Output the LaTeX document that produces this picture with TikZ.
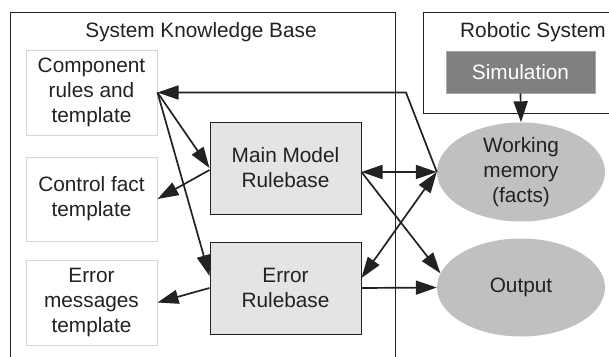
\documentclass[tikz,border=0pt]{standalone}
\usepackage{fontspec}
\setmainfont{Liberation Sans}
\usetikzlibrary{arrows.meta,shapes.geometric,calc}
\definecolor{txt}{HTML}{222222}
\definecolor{lightbd}{HTML}{D6D6D6}
\definecolor{rbfill}{HTML}{E4E4E4}
\definecolor{ellfill}{HTML}{C0C0C0}
\definecolor{simfill}{HTML}{808080}
\definecolor{simbd}{HTML}{A8A8A8}
\tikzset{
  every node/.style={font=\fontsize{20.8}{25}\selectfont, text=txt, align=center, inner sep=0pt},
  tbox/.style={draw=lightbd, line width=1pt, minimum width=131pt, minimum height=85pt},
  rbox/.style={draw=txt, fill=rbfill, line width=1pt, minimum width=151pt, minimum height=92pt},
  ell/.style={ellipse, fill=ellfill, minimum width=168pt, minimum height=99pt},
  frame/.style={draw=txt, line width=1pt},
  arr/.style={draw=txt, line width=1.7pt, -{Triangle[length=21pt,width=14pt]}},
  darr/.style={draw=txt, line width=1.7pt, {Triangle[length=21pt,width=14pt]}-{Triangle[length=21pt,width=14pt]}},
}
\begin{document}
\begin{tikzpicture}[x=1pt,y=-1pt]
\useasboundingbox (0,0) rectangle (609,356);
\clip (0,0) rectangle (609,356);
% containers
\node[frame, minimum width=385pt, minimum height=400pt, anchor=north west] (skb) at (10,12) {};
\node (skbt) at (201,32) {System Knowledge Base};
\node[frame, minimum width=240pt, minimum height=101pt, anchor=north west] (rob) at (423,12) {};
\node (robt) at (533,32) {Robotic System};
\node[draw=simbd, fill=simfill, line width=1pt, minimum width=149pt, minimum height=42pt, text=white] (sim) at (520.5,72) {Simulation};
% left text boxes
\node[tbox] (comp) at (91.5,92.5) {Component\\rules and\\template};
\node[tbox, minimum height=84pt] (ctrl) at (91.5,199) {Control fact\\template};
\node[tbox] (emsg) at (91.5,302.5) {Error\\messages\\template};
% rulebases
\node[rbox] (main) at (285.5,168) {Main Model\\Rulebase};
\node[rbox] (err) at (285.5,288) {Error\\Rulebase};
% ellipses
\node[ell] (wm) at (521,172) {Working\\memory\\(facts)};
\node[ell, minimum height=98pt] (out) at (521,287.5) {Output};
% connectors
\coordinate (bend) at (406,92.5);
\draw[arr] (wm.west) -- (bend) -- (comp.east);
\draw[arr] (comp.east) -- (main.west);
\draw[arr] (comp.east) -- ($(err.west)+(0,-12)$);
\draw[arr] ($(main.west)+(0,2)$) -- (ctrl.east);
\draw[arr] (err.west) -- (emsg.east);
\draw[darr] ($(main.east)+(0,4)$) -- (wm.west);
\draw[arr] ($(main.east)+(0,4)$) -- (out.170);
\draw[darr] ($(err.east)+(0,-10)$) -- (wm.west);
\draw[arr] (err.east) -- (out.west);
\draw[arr] (sim.south) -- (wm.north);
\end{tikzpicture}
\end{document}
